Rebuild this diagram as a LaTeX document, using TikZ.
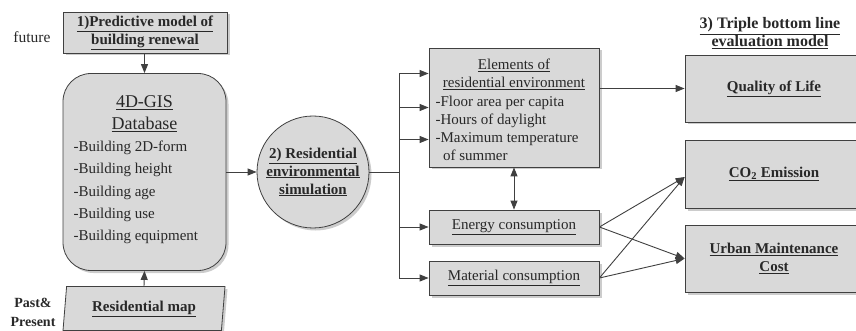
\documentclass[tikz,border=0pt]{standalone}
\usepackage{fontspec}
\setmainfont{Liberation Serif}
\usepackage{tikz}
\usetikzlibrary{arrows.meta,shadows,shapes.geometric}
\definecolor{boxgray}{RGB}{217,217,217}
\definecolor{linegray}{RGB}{64,64,64}
\definecolor{textgray}{RGB}{40,40,40}

\begin{document}
\begin{tikzpicture}[x=1pt,y=-1pt,
    box/.style={draw=linegray,fill=boxgray,line width=0.8pt,inner sep=0pt,
      drop shadow={shadow xshift=2.5pt,shadow yshift=-2.5pt,opacity=0.4}},
    arr/.style={draw=linegray,line width=0.9pt,-{Triangle[length=9pt,width=7pt]}},
    dblarr/.style={draw=linegray,line width=0.9pt,{Triangle[length=9pt,width=7pt]}-{Triangle[length=9pt,width=7pt]}},
    wire/.style={draw=linegray,line width=0.9pt},
    hd/.style={font=\fontsize{15}{18}\selectfont\bfseries,text=textgray,align=center},
    txt/.style={font=\fontsize{15}{18}\selectfont,text=textgray}]
  \useasboundingbox (0,0) rectangle (856,331);
  % inputs: future and past
  \node[box,hd,minimum width=164pt,minimum height=41pt] (pred) at (145,32.5)
    {\underline{1)Predictive model of}\\\underline{building renewal}};
  \node[txt,font=\fontsize{15.5}{18}\selectfont] (future) at (32,37) {future};
  \node[box,hd,trapezium,trapezium left angle=77,trapezium right angle=103,
    trapezium stretches body=true,minimum width=162pt,minimum height=44pt] (map) at (144,308.5)
    {\underline{Residential map}};
  \node[hd,font=\fontsize{14}{19}\selectfont\bfseries] (past) at (33,312) {Past\&\\Present};
  % database
  \node[box,rounded corners=28pt,minimum width=163pt,minimum height=197pt] (db) at (144.5,172) {};
  \node[txt,font=\fontsize{18}{22}\selectfont,align=center] (dbhead) at (144.5,114)
    {\underline{4D-GIS}\\\underline{Database}};
  \node[txt,font=\fontsize{15}{22.3}\selectfont,align=left,anchor=west] (dblist) at (70,192.5)
    {-Building 2D-form\\-Building height\\-Building age\\-Building use\\-Building equipment};
  % simulation
  \node[box,hd,circle,minimum size=112pt] (sim) at (313,172)
    {\underline{2) Residential}\\\underline{environmental}\\\underline{simulation}};
  % residential environment, energy, material
  \node[box,minimum width=170pt,minimum height=119pt] (elem) at (514,107.5) {};
  \node[txt,align=center] (elemhead) at (514,74)
    {\underline{Elements of}\\\underline{residential environment}};
  \node[txt,align=left,anchor=west] (elemlist) at (432,128)
    {-Floor area per capita\\-Hours of daylight\\-Maximum temperature\\\hspace{0.5em}of summer};
  \node[box,txt,minimum width=170pt,minimum height=34pt] (energy) at (514,227)
    {\underline{Energy consumption}};
  \node[box,txt,minimum width=170pt,minimum height=34pt] (mat) at (514,278)
    {\underline{Material consumption}};
  % triple bottom line (boxes run off the right edge)
  \node[hd,font=\fontsize{16}{18}\selectfont\bfseries] (tbl) at (770,33.5)
    {\underline{3) Triple bottom line}\\\underline{evaluation model}};
  \node[box,hd,minimum width=178pt,minimum height=67pt] (qol) at (774,88.5)
    {\underline{Quality of Life}};
  \node[box,hd,minimum width=178pt,minimum height=68pt] (co2) at (774,174)
    {\underline{CO\textsubscript{2} Emission}};
  \node[box,hd,minimum width=178pt,minimum height=67pt] (cost) at (774,258.5)
    {\underline{Urban Maintenance}\\\underline{Cost}};
  % connectors
  \draw[arr] (pred.south -| db.north) -- (db.north);
  \draw[arr] (map.north) -- (db.south);
  \draw[arr] (db.east) -- (sim.west);
  \coordinate (split) at (399,172);
  \draw[wire] (sim.east) -- (split);
  \draw[arr] (split) |- ([yshift=34pt]elem.west);
  \draw[arr] (split) |- (elem.west);
  \draw[arr] (split) |- ([yshift=-32pt]elem.west);
  \draw[arr] (split) |- (energy.west);
  \draw[arr] (split) |- (mat.west);
  \draw[dblarr] (elem.south) -- (energy.north);
  \draw[arr] (elem.east |- qol.west) -- (qol.west);
  \draw[arr] (energy.east) -- ([yshift=-3pt]co2.west);
  \draw[arr] (energy.east) -- (cost.west);
  \draw[arr] (mat.east) -- ([yshift=-3pt]co2.west);
  \draw[arr] (mat.east) -- (cost.west);
\end{tikzpicture}
\end{document}
